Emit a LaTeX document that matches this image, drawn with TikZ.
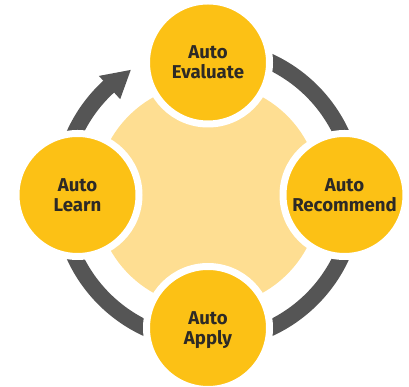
\documentclass[tikz,border=0pt]{standalone}
\usepackage{fontspec}
\setmainfont{Fira Sans}
\usetikzlibrary{calc}
\definecolor{sun}{RGB}{252,193,21}
\definecolor{pale}{RGB}{254,222,146}
\definecolor{ringgray}{RGB}{85,85,85}
\definecolor{ink}{RGB}{45,42,38}
\begin{document}
\begin{tikzpicture}[x=1pt,y=1pt,
  stage/.style={circle, minimum size=123pt, inner sep=0pt, fill=sun,
    draw=white, line width=7pt},
  stagetext/.style={font=\bfseries\fontsize{18.6}{20}\selectfont, text=ink,
    align=center, text depth=0pt},
  ring/.style={draw=ringgray, line width=16pt}]
\useasboundingbox (0,0) rectangle (409,387);
\coordinate (C) at (208,192);

% pale hub behind the stages
\fill[pale] (C) circle[radius=112];

% ring segments between the stages
\coordinate (rN) at ($(C)+(90:147)$);
\coordinate (rE) at ($(C)+(0:147)$);
\coordinate (rS) at ($(C)+(-90:147)$);
\coordinate (rW) at ($(C)+(180:147)$);
\draw[ring] (rN) arc[start angle=90, end angle=0, radius=147];
\draw[ring] (rE) arc[start angle=0, end angle=-90, radius=147];
\draw[ring] (rS) arc[start angle=-90, end angle=-180, radius=147];
\draw[ring] (rW) arc[start angle=180, end angle=132, radius=147];
% arrowhead closing the cycle
\coordinate (tip) at ($(C)+(121.7:147)$);
\fill[ringgray] ($(C)+(132.5:130)$) -- (tip) -- ($(C)+(132.5:161.5)$) -- cycle;

% stages
\node[stage, stagetext] (eval)  at (208,324.5) {Auto\\Evaluate};
\node[stage, stagetext] (rec)   at (344.5,192) {Auto\\Recommend};
\node[stage, stagetext] (apply) at (208,59)    {Auto\\Apply};
\node[stage, stagetext] (learn) at (77.5,192)  {Auto\\Learn};
\end{tikzpicture}
\end{document}
